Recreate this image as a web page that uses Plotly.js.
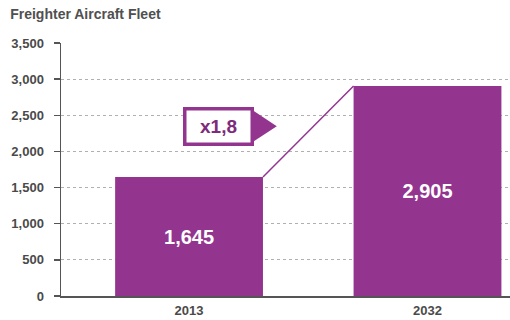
<!DOCTYPE html>
<html>
<head>
<meta charset="utf-8">
<script src="https://cdn.plot.ly/plotly-3.0.1.min.js"></script>
<style>
  html, body { margin: 0; padding: 0; background: #fff; }
  #chart { width: 510px; height: 320px; }
</style>
</head>
<body>
<div id="chart"></div>
<script>
// Freighter fleet size, now and forecast
const years = ['2013', '2032'];
const fleet = [1645, 2905];
const yTicks = [0, 500, 1000, 1500, 2000, 2500, 3000, 3500];
const yTickLabels = ['0', '500', '1,000', '1,500', '2,000', '2,500', '3,000', '3,500'];

const PURPLE = '#93358f';
const BAR_W = 0.62;
const xPos = years.map((_, i) => i);

// Growth multiple, written with a decimal comma
const growth = 'x' + (fleet[1] / fleet[0]).toFixed(1).replace('.', ',');

const fmt = v => v.toLocaleString('en-US');

const bars = {
  type: 'bar',
  x: xPos,
  y: fleet,
  width: BAR_W,
  marker: { color: PURPLE, line: { width: 0 } },
  text: fleet.map(fmt),
  textposition: 'inside',
  insidetextanchor: 'middle',
  textfont: { family: 'Liberation Sans, Arial, sans-serif', size: 20, color: '#ffffff', weight: 'bold' },
  hoverinfo: 'skip'
};

// Connector from the top right corner of the first bar to the top left of the second
const connector = {
  type: 'line',
  xref: 'x', yref: 'y',
  x0: xPos[0] + BAR_W / 2, y0: fleet[0],
  x1: xPos[1] - BAR_W / 2, y1: fleet[1],
  line: { color: PURPLE, width: 1.5 }
};

// Callout box placement (data units)
const boxX = 0.125, boxY = 2350;
const arrow = {
  type: 'path',
  xref: 'x', yref: 'y',
  path: 'M 0.262 2580 L 0.368 ' + boxY + ' L 0.262 2120 Z',
  fillcolor: PURPLE,
  line: { width: 0 }
};

const layout = {
  width: 510,
  height: 320,
  margin: { l: 61, r: 0, t: 43, b: 24, pad: 0 },
  paper_bgcolor: '#ffffff',
  plot_bgcolor: '#ffffff',
  showlegend: false,
  font: { family: 'Liberation Sans, Arial, sans-serif', color: '#4a4a4a' },
  title: {
    text: 'Freighter Aircraft Fleet',
    x: 0.02, xanchor: 'left',
    y: 0.955, yanchor: 'middle',
    font: { family: 'Liberation Sans Narrow, Arial Narrow, sans-serif', size: 14, color: '#505050', weight: 'bold' }
  },
  xaxis: {
    type: 'linear',
    range: [-0.537, 1.346],
    tickvals: xPos,
    ticktext: years,
    showgrid: false,
    zeroline: false,
    showline: true,
    linecolor: '#555555',
    linewidth: 1.5,
    ticks: '',
    ticklabelstandoff: 2,
    tickfont: { size: 13, color: '#4a4a4a', weight: 'bold' },
    fixedrange: true
  },
  yaxis: {
    range: [0, 3500],
    tickvals: yTicks,
    ticktext: yTickLabels,
    showgrid: true,
    gridcolor: '#b0b0b0',
    gridwidth: 1,
    griddash: 'dot',
    zeroline: false,
    showline: true,
    linecolor: '#555555',
    linewidth: 1.5,
    ticks: 'outside',
    ticklen: 6,
    tickwidth: 1.5,
    tickcolor: '#555555',
    ticklabelstandoff: 7,
    tickfont: { size: 13, color: '#4a4a4a', weight: 'bold' },
    fixedrange: true
  },
  shapes: [connector, arrow],
  annotations: [{
    xref: 'x', yref: 'y',
    x: boxX, y: boxY,
    text: growth,
    showarrow: false,
    font: { family: 'Liberation Sans, Arial, sans-serif', size: 19, color: '#7e2b7b', weight: 'bold' },
    bgcolor: '#ffffff',
    bordercolor: PURPLE,
    borderwidth: 3.5,
    borderpad: 4,
    width: 56,
    height: 24
  }]
};

Plotly.newPlot('chart', [bars], layout, { displayModeBar: false, staticPlot: true });
</script>
</body>
</html>
